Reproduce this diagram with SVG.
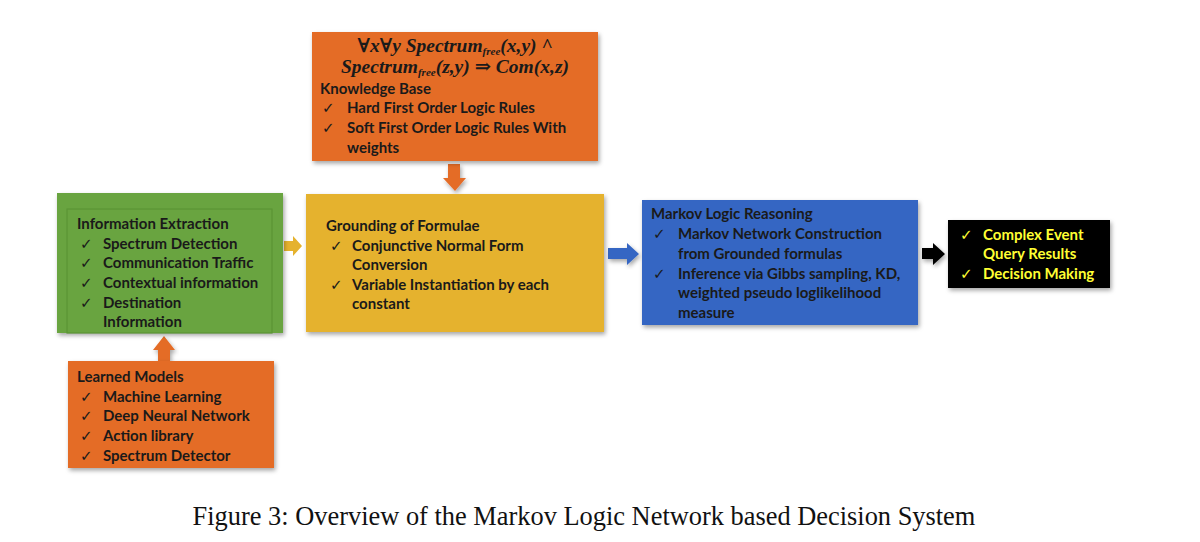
<svg xmlns="http://www.w3.org/2000/svg" width="1200" height="542" viewBox="0 0 1200 542">
<defs>
<filter id="sh" x="-10%" y="-10%" width="125%" height="130%">
<feDropShadow dx="1.5" dy="2.5" stdDeviation="2" flood-color="#000" flood-opacity="0.35"/>
</filter>
<style>
.t{font-family:Lato,"Open Sans",sans-serif;font-weight:bold;font-size:15px;fill:#1a1a1a}
.y{fill:#ffff33}
.f{font-family:"Liberation Serif","DejaVu Serif",serif;font-weight:bold;font-style:italic;font-size:19.5px;fill:#1a1a1a}
.s{font-size:11px}
.cap{font-family:"Liberation Serif","Times New Roman",serif;font-size:26.4px;fill:#111}
.ck{font-family:"DejaVu Sans",sans-serif;font-weight:normal;font-size:15px}
</style>
</defs>
<rect width="1200" height="542" fill="#fff"/>

<g id="connectors">
<path d="M284,241 H293 V236 L302,246 L293,256 V251 H284 Z" fill="#E5B22E"/>
<path d="M448,164 H460 V178 H466 L455,191 L443,178 H448 Z" fill="#E46C28" filter="url(#sh)"/>
<path d="M608,248 H627 V243 L639,254 L627,265 V259 H608 Z" fill="#3566C3" filter="url(#sh)"/>
<path d="M922,248 H933 V243 L945,254 L933,265 V259 H922 Z" fill="#000" filter="url(#sh)"/>
<path d="M158,361 V350 H153 L164,336 L175,350 H170 V361 Z" fill="#E46C28" filter="url(#sh)"/>
</g>

<g id="knowledge-base">
<rect x="312" y="32" width="286" height="129" fill="#E46C28" filter="url(#sh)"/>
<text class="f" x="455" y="52" text-anchor="middle">∀x∀y Spectrum<tspan class="s" dy="3">free</tspan><tspan dy="-3">(x,y) ^</tspan></text>
<text class="f" x="455" y="73" text-anchor="middle">Spectrum<tspan class="s" dy="3">free</tspan><tspan dy="-3">(z,y) ⇒ Com(x,z)</tspan></text>
<text class="t" x="320" y="94">Knowledge Base</text>
<text class="t ck" x="322" y="113">✓</text><text class="t" x="347" y="113">Hard First Order Logic Rules</text>
<text class="t ck" x="322" y="133">✓</text><text class="t" x="347" y="133">Soft First Order Logic Rules With</text>
<text class="t" x="347" y="153">weights</text>
</g>

<g id="information-extraction">
<rect x="57" y="193" width="226" height="140" fill="#69A440" filter="url(#sh)"/>
<rect x="67" y="209" width="205" height="124" fill="none" stroke="#5B9535" stroke-width="1.2"/>
<text class="t" x="77" y="229">Information Extraction</text>
<text class="t ck" x="80" y="249">✓</text><text class="t" x="103" y="249">Spectrum Detection</text>
<text class="t ck" x="80" y="268">✓</text><text class="t" x="103" y="268">Communication Traffic</text>
<text class="t ck" x="80" y="288">✓</text><text class="t" x="103" y="288">Contextual information</text>
<text class="t ck" x="80" y="308">✓</text><text class="t" x="103" y="308">Destination</text>
<text class="t" x="103" y="327">Information</text>
</g>

<g id="grounding">
<rect x="306" y="194" width="298" height="138" fill="#E5B22E" filter="url(#sh)"/>
<text class="t" x="326" y="231">Grounding of Formulae</text>
<text class="t ck" x="330" y="251">✓</text><text class="t" x="352" y="251">Conjunctive Normal Form</text>
<text class="t" x="352" y="270">Conversion</text>
<text class="t ck" x="330" y="290">✓</text><text class="t" x="352" y="290">Variable Instantiation by each</text>
<text class="t" x="352" y="309">constant</text>
</g>

<g id="markov-logic-reasoning">
<rect x="642" y="200" width="276" height="125" fill="#3566C3" filter="url(#sh)"/>
<text class="t" x="651" y="219">Markov Logic Reasoning</text>
<text class="t ck" x="653" y="239">✓</text><text class="t" x="678" y="239">Markov Network Construction</text>
<text class="t" x="678" y="259">from Grounded formulas</text>
<text class="t ck" x="653" y="279">✓</text><text class="t" x="678" y="279">Inference via Gibbs sampling, KD,</text>
<text class="t" x="678" y="298">weighted pseudo loglikelihood</text>
<text class="t" x="678" y="318">measure</text>
</g>

<g id="results">
<rect x="948" y="220" width="162" height="68" fill="#000" filter="url(#sh)"/>
<text class="t ck y" x="960" y="240">✓</text><text class="t y" x="983" y="240">Complex Event</text>
<text class="t y" x="983" y="259">Query Results</text>
<text class="t ck y" x="960" y="279">✓</text><text class="t y" x="983" y="279">Decision Making</text>
</g>

<g id="learned-models">
<rect x="68" y="361" width="206" height="107" fill="#E46C28" filter="url(#sh)"/>
<text class="t" x="77" y="382">Learned Models</text>
<text class="t ck" x="80" y="402">✓</text><text class="t" x="103" y="402">Machine Learning</text>
<text class="t ck" x="80" y="421">✓</text><text class="t" x="103" y="421">Deep Neural Network</text>
<text class="t ck" x="80" y="441">✓</text><text class="t" x="103" y="441">Action library</text>
<text class="t ck" x="80" y="461">✓</text><text class="t" x="103" y="461">Spectrum Detector</text>
</g>

<text class="cap" x="584" y="525" text-anchor="middle">Figure 3: Overview of the Markov Logic Network based Decision System</text>
</svg>
